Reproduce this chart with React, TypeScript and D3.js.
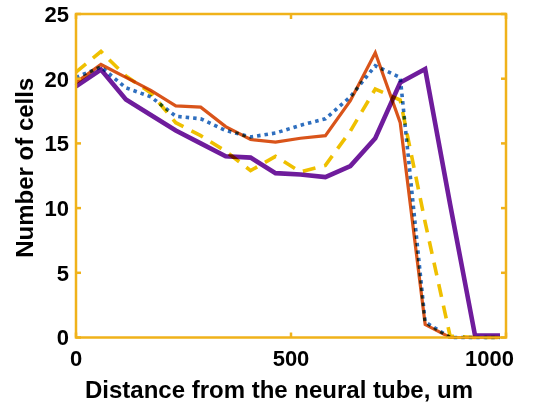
import React from "react";
import * as d3 from "d3";

// Bin centres along the distance axis (um)
const distances = [0, 58, 116, 174, 232, 290, 348, 406, 464, 522, 580, 638, 696, 754, 812, 870, 928, 986];

// Cell counts per bin for each group
const blueDotted = [20.1, 20.9, 19.3, 18.6, 17.1, 16.9, 16.0, 15.5, 15.8, 16.4, 16.9, 18.6, 21.0, 20.1, 1.2, 0, 0, 0];
const yellowDashed = [20.5, 22.1, 20.2, 18.9, 16.6, 15.6, 14.4, 12.9, 14.0, 12.8, 13.3, 15.95, 19.2, 18.35, 8.9, 0.1, 0, 0];
const orangeSolid = [19.7, 21.1, 20.1, 19.1, 17.9, 17.8, 16.3, 15.3, 15.1, 15.4, 15.6, 18.3, 22.0, 16.6, 1.0, 0, 0, 0];
const purpleSolid = [19.4, 20.7, 18.4, 17.2, 16.0, 15.0, 14.0, 13.9, 12.7, 12.6, 12.4, 13.25, 15.4, 19.7, 20.75, 10.3, 0.15, 0.15];

const xTicks = [0, 500, 1000];
const yTicks = [0, 5, 10, 15, 20, 25];

const W = 533;
const H = 405;
const left = 76;
const right = 506;
const top = 14;
const bottom = 337.5;
const axisColor = "#F0B21A";
const font = "'Liberation Sans', Arial, sans-serif";
const tickSize = 22;

const series = [
  { values: blueDotted, color: "#2F6FBF", width: 3.6, dash: "3.5 4" },
  { values: yellowDashed, color: "#EFC000", width: 3.6, dash: "13 9" },
  { values: orangeSolid, color: "#D9541A", width: 3.2, dash: null },
  { values: purpleSolid, color: "#6F1C9C", width: 4.6, dash: null },
];

export default function App() {
  const x = d3.scaleLinear().domain([0, 1000]).range([left, right]);
  const y = d3.scaleLinear().domain([0, 25]).range([bottom, top]);
  const line = d3
    .line<number>()
    .x((_, i) => x(distances[i]))
    .y((v) => y(v));

  return (
    <svg width={W} height={H} style={{ position: "absolute", left: 0, top: 0, background: "#fff" }}>
      {series.map((s, k) => (
        <path
          key={k}
          d={line(s.values) ?? ""}
          fill="none"
          stroke={s.color}
          strokeWidth={s.width}
          strokeDasharray={s.dash ?? undefined}
          strokeLinejoin="miter"
          style={{ mixBlendMode: "multiply" }}
        />
      ))}

      {/* axis box */}
      <rect x={left} y={top} width={right - left} height={bottom - top} fill="none" stroke={axisColor} strokeWidth={2.5} />

      {/* y ticks, left and right, pointing inward */}
      {yTicks.map((t) => (
        <g key={"y" + t}>
          <line x1={left} x2={left + 5} y1={y(t)} y2={y(t)} stroke={axisColor} strokeWidth={2.5} />
          <line x1={right} x2={right - 5} y1={y(t)} y2={y(t)} stroke={axisColor} strokeWidth={2.5} />
          <text
            x={left - 7}
            y={y(t)}
            dy="0.36em"
            textAnchor="end"
            fontFamily={font}
            fontWeight="bold"
            fontSize={tickSize}
            fill="#000"
          >
            {t}
          </text>
        </g>
      ))}

      {/* x ticks, bottom and top, pointing inward; the last label is kept inside the frame */}
      {xTicks.map((t, i) => {
        const last = i === xTicks.length - 1;
        return (
          <g key={"x" + t}>
            <line x1={x(t)} x2={x(t)} y1={bottom} y2={bottom - 5} stroke={axisColor} strokeWidth={2.5} />
            <line x1={x(t)} x2={x(t)} y1={top} y2={top + 5} stroke={axisColor} strokeWidth={2.5} />
            <text
              x={last ? x(t) + 8 : x(t)}
              y={366}
              textAnchor={last ? "end" : "middle"}
              fontFamily={font}
              fontWeight="bold"
              fontSize={tickSize}
              fill="#000"
            >
              {t}
            </text>
          </g>
        );
      })}

      <text
        x={(left + right) / 2 - 12}
        y={398}
        textAnchor="middle"
        fontFamily={font}
        fontWeight="bold"
        fontSize={24}
        fill="#000"
      >
        Distance from the neural tube, um
      </text>
      <text
        transform={`translate(33, ${(top + bottom) / 2 - 8}) rotate(-90)`}
        textAnchor="middle"
        fontFamily={font}
        fontWeight="bold"
        fontSize={24}
        fill="#000"
      >
        Number of cells
      </text>
    </svg>
  );
}
